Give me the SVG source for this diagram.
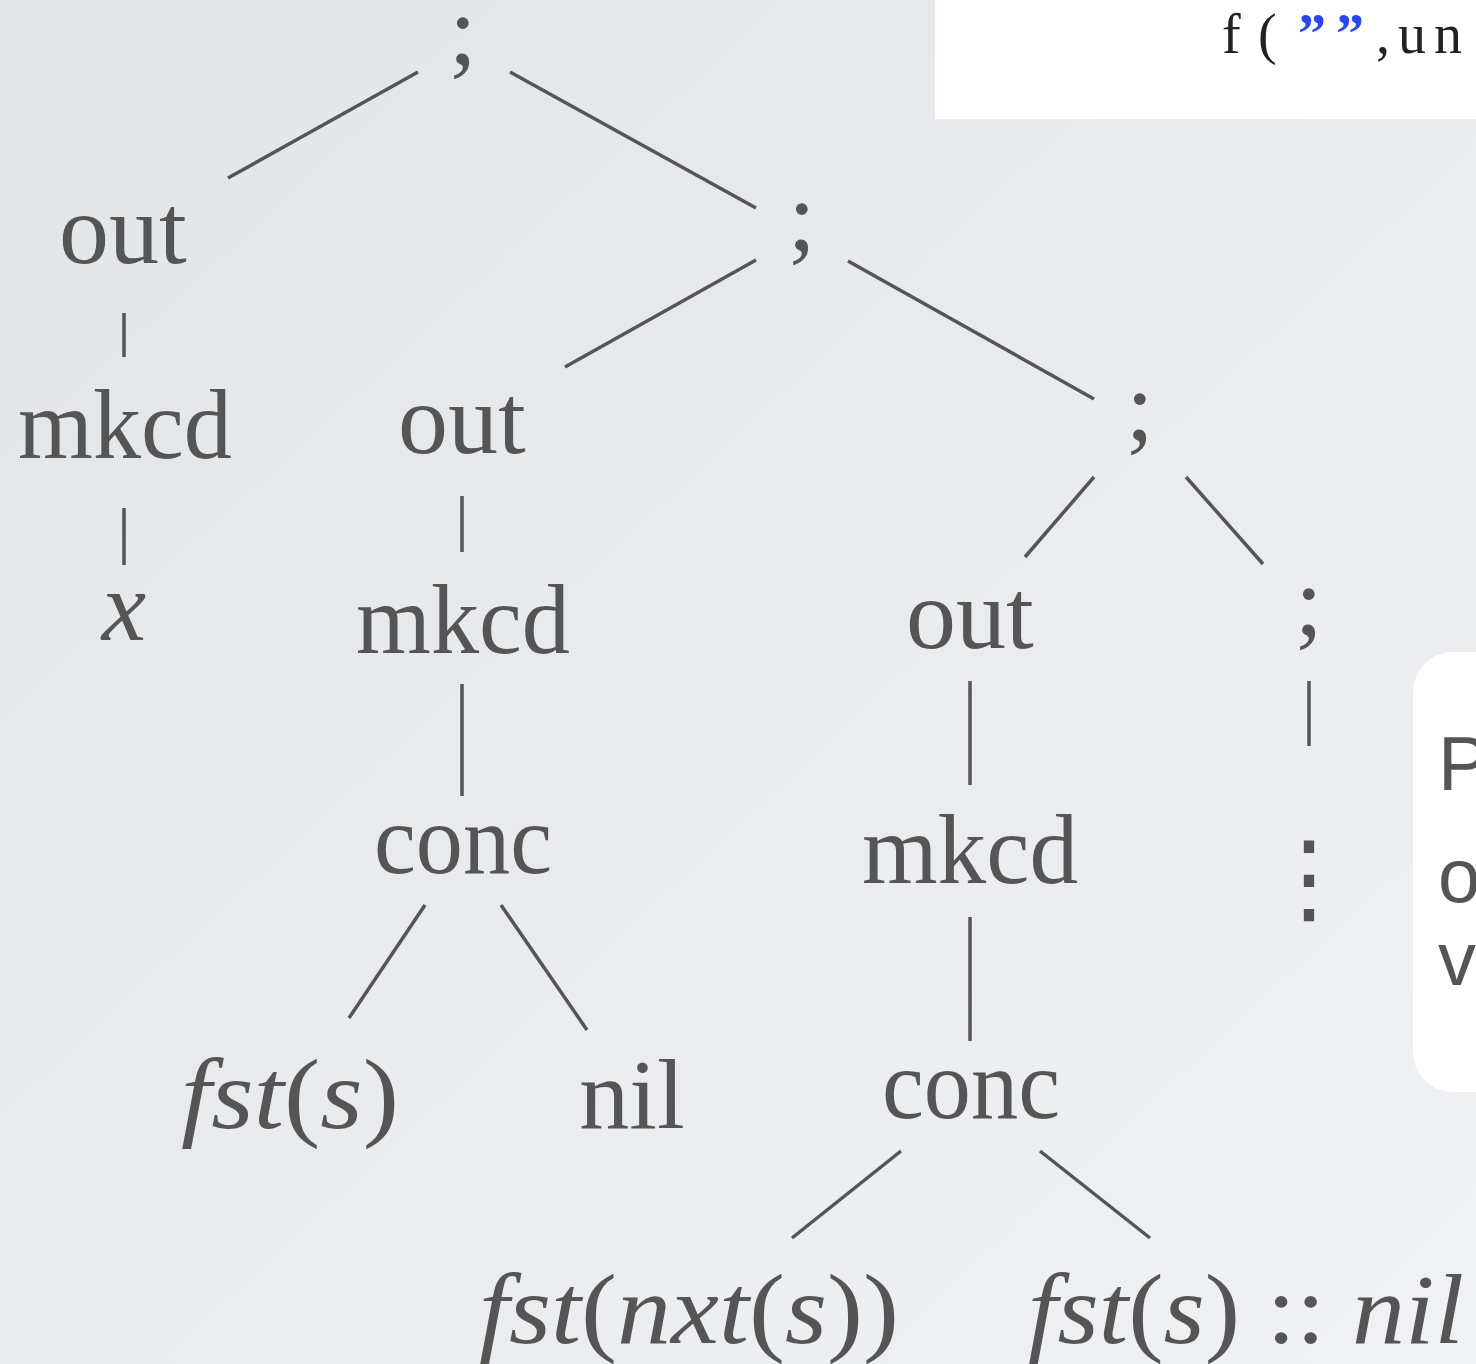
<svg xmlns="http://www.w3.org/2000/svg" width="1476" height="1364" viewBox="0 0 1476 1364">
<defs>
<linearGradient id="bg" x1="0" y1="0" x2="1" y2="1">
<stop offset="0" stop-color="#e2e5e8"/>
<stop offset="1" stop-color="#eff1f4"/>
</linearGradient>
<style>
.t{font-family:"Liberation Serif","Times New Roman",serif;font-size:100px;fill:#555555;text-anchor:middle}
.i{font-style:italic}
.n{font-style:normal}
.e{stroke:#555555;stroke-width:3.5;fill:none}
.code{font-family:"Liberation Serif",serif;font-size:56px;fill:#222222}
.q{fill:#2a46f0;font-weight:bold}
.side{font-family:"Liberation Sans",Arial,sans-serif;font-size:76px;fill:#555555}
</style>
</defs>
<rect x="0" y="0" width="1476" height="1364" fill="url(#bg)"/>
<g id="code-box">
<rect x="935" y="-10" width="560" height="129" fill="#ffffff"/>
<text class="code" y="53"><tspan x="1222">f</tspan><tspan x="1258">(</tspan><tspan class="q" x="1298">”</tspan><tspan class="q" x="1336">”</tspan><tspan x="1376">,</tspan><tspan x="1398">u</tspan><tspan x="1434">n</tspan></text>
</g>
<g id="side-box">
<rect x="1413" y="652" width="120" height="440" rx="40" ry="40" fill="#ffffff"/>
<text class="side" x="1438" y="790">P</text>
<text class="side" x="1438" y="902">o</text>
<text class="side" x="1438" y="985">v</text>
</g>
<g id="connectors">
<line class="e" x1="418" y1="72" x2="228" y2="178"/>
<line class="e" x1="510" y1="72" x2="756" y2="208"/>
<line class="e" x1="124" y1="313" x2="124" y2="357"/>
<line class="e" x1="124" y1="508" x2="124" y2="565"/>
<line class="e" x1="756" y1="260" x2="565" y2="367"/>
<line class="e" x1="848" y1="261" x2="1094" y2="399"/>
<line class="e" x1="462" y1="496" x2="462" y2="552"/>
<line class="e" x1="1094" y1="477" x2="1025" y2="557"/>
<line class="e" x1="1186" y1="477" x2="1263" y2="564"/>
<line class="e" x1="462" y1="684" x2="462" y2="796"/>
<line class="e" x1="970" y1="681" x2="970" y2="785"/>
<line class="e" x1="1309" y1="681" x2="1309" y2="746"/>
<line class="e" x1="425" y1="905" x2="349" y2="1018"/>
<line class="e" x1="501" y1="905" x2="587" y2="1030"/>
<line class="e" x1="970" y1="917" x2="970" y2="1041"/>
<line class="e" x1="901" y1="1151" x2="792" y2="1238"/>
<line class="e" x1="1040" y1="1151" x2="1150" y2="1238"/>
</g>
<g id="n-root"><text class="t" x="463" y="64">;</text></g>
<g id="n-out1"><text class="t" x="123" y="263">out</text></g>
<g id="n-seq2"><text class="t" x="802" y="250">;</text></g>
<g id="n-mkcd1"><text class="t" x="125" y="458" textLength="214" lengthAdjust="spacingAndGlyphs">mkcd</text></g>
<g id="n-out2"><text class="t" x="462" y="453">out</text></g>
<g id="n-seq3"><text class="t" x="1140" y="440">;</text></g>
<g id="n-x"><text class="t i" x="124" y="640">x</text></g>
<g id="n-mkcd2"><text class="t" x="463" y="653" textLength="214" lengthAdjust="spacingAndGlyphs">mkcd</text></g>
<g id="n-out3"><text class="t" x="970" y="648">out</text></g>
<g id="n-seq4"><text class="t" x="1309" y="635">;</text></g>
<g id="n-conc1"><text class="t" x="463" y="873" textLength="178" lengthAdjust="spacingAndGlyphs">conc</text></g>
<g id="n-mkcd3"><text class="t" x="970" y="883" textLength="216" lengthAdjust="spacingAndGlyphs">mkcd</text></g>
<g id="n-vdots"><text class="t" x="1309" y="912" style="font-family:'Noto Sans CJK JP','DejaVu Sans',sans-serif;font-size:100px">⋮</text></g>
<g id="n-fst1"><text class="t i" x="290" y="1128" textLength="218" lengthAdjust="spacingAndGlyphs">fst<tspan class="n">(</tspan>s<tspan class="n">)</tspan></text></g>
<g id="n-nil1"><text class="t" x="632" y="1128">nil</text></g>
<g id="n-conc2"><text class="t" x="971" y="1118" textLength="178" lengthAdjust="spacingAndGlyphs">conc</text></g>
<g id="n-fst2"><text class="t i" x="689" y="1343" textLength="420" lengthAdjust="spacingAndGlyphs">fst<tspan class="n">(</tspan>nxt<tspan class="n">(</tspan>s<tspan class="n">))</tspan></text></g>
<g id="n-cons"><text class="t i" x="1246" y="1343" textLength="436" lengthAdjust="spacingAndGlyphs">fst<tspan class="n">(</tspan>s<tspan class="n">) :: </tspan>nil</text></g>
</svg>
